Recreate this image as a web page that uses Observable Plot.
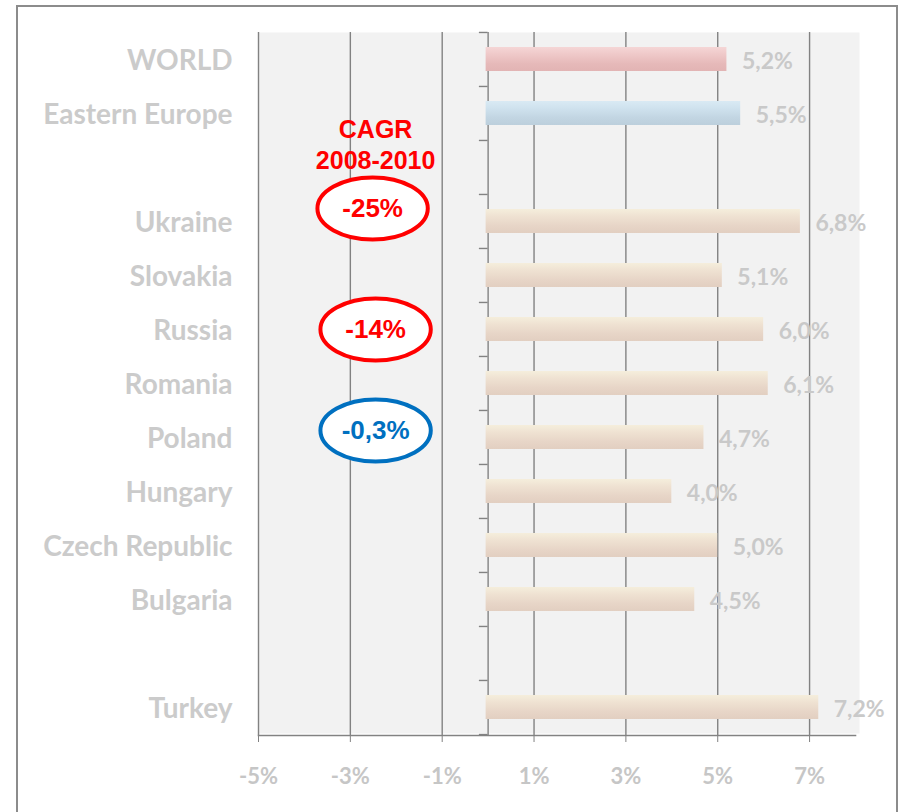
<!DOCTYPE html>
<html><head><meta charset="utf-8">
<script src="https://cdn.jsdelivr.net/npm/d3@7"></script>
<script src="https://cdn.jsdelivr.net/npm/@observablehq/plot@0.6"></script>
<style>
body{margin:0;background:#fff;width:901px;height:812px;overflow:hidden;position:relative}
#border{position:absolute;left:16px;top:5px;width:882px;height:900px;border:2px solid #8c8c8c;box-sizing:border-box}
#chart{position:absolute;left:0;top:0}
</style></head><body><div id="border"></div><div id="chart"></div>
<script>
// ---- data ----
const categories = ["WORLD","Eastern Europe","_gap1","Ukraine","Slovakia","Russia","Romania","Poland","Hungary","Czech Republic","Bulgaria","_gap2","Turkey"];
const values     = [5.2, 5.5, null, 6.8, 5.1, 6.0, 6.1, 4.7, 4.0, 5.0, 4.5, null, 7.2];
const groups     = ["world","region",null,"country","country","country","country","country","country","country","country",null,"country"];
const xTicks = [-5,-3,-1,1,3,5,7];
const xDomain = [-5, 8];
const cagrTitle = "CAGR\n2008-2010";
const annotationX = -2.45;
const annotations = [
  {row:"Ukraine", label:"-25%",  color:"#ff0000"},
  {row:"Russia",  label:"-14%",  color:"#ff0000"},
  {row:"Poland",  label:"-0,3%", color:"#0070c0"}
];
const annotationOffsets = [{dx:-3, dy:-13}, {dx:0, dy:0}, {dx:0, dy:-7}];

const rows = categories.map((c,i)=>({cat:c, value:values[i], group:groups[i]})).filter(d=>d.value!=null);

// ---- layout ----
const W = 901, H = 812, mt = 32, mb = 77, ml = 258, mr = 46;
const step = (H - mt - mb) / categories.length;
const fmt = v => v.toFixed(1).replace(".", ",") + "%";

const ellipse = {
  draw(ctx, size) {
    const r = Math.sqrt(size / Math.PI), rx = r * 1.78, ry = r, k = 0.5523;
    ctx.moveTo(rx, 0);
    ctx.bezierCurveTo(rx, ry*k, rx*k, ry, 0, ry);
    ctx.bezierCurveTo(-rx*k, ry, -rx, ry*k, -rx, 0);
    ctx.bezierCurveTo(-rx, -ry*k, -rx*k, -ry, 0, -ry);
    ctx.bezierCurveTo(rx*k, -ry, rx, -ry*k, rx, 0);
    ctx.closePath();
  }
};

const grads = {world:"url(#g-world)", region:"url(#g-region)", country:"url(#g-country)"};
const annFont = "Liberation Sans, Arial, sans-serif";

const chart = Plot.plot({
  width: W, height: H,
  marginTop: mt, marginBottom: mb, marginLeft: ml, marginRight: mr,
  style: {fontFamily: "Lato, sans-serif", background: "transparent", overflow: "visible"},
  x: {domain: xDomain, label: null},
  y: {domain: categories, paddingInner: 0.55, paddingOuter: 0.275, label: null},
  marks: [
    Plot.frame({fill: "#f2f2f2", stroke: null, insetRight: -4, insetBottom: 2}),
    Plot.ruleX(xTicks, {stroke: "#828282", strokeWidth: 1.4}),
    Plot.ruleX([0], {stroke: "#828282", strokeWidth: 1.4}),
    Plot.ruleY(categories, {y: d => d, x1: -0.19, x2: 0, dy: -step/2, stroke: "#828282", strokeWidth: 1.4}),
    Plot.ruleY(categories.slice(-1), {y: d => d, x1: -0.19, x2: 0, dy: step/2, stroke: "#828282", strokeWidth: 1.4}),
    Plot.frame({anchor: "bottom", stroke: "#828282", strokeWidth: 1.6}),
    ...["world","region","country"].map(g =>
      Plot.barX(rows.filter(d => d.group === g), {x1: 0, x2: "value", y: "cat", fill: grads[g], insetLeft: -2})
    ),
    Plot.text(rows, {x: "value", y: "cat", text: d => fmt(d.value), dx: 15, dy: 2, textAnchor: "start",
      fill: "#c9c9c9", fontSize: 23, fontWeight: "bold"}),
    Plot.axisX({ticks: xTicks, tickSize: 7, tickPadding: 26, tickFormat: d => d + "%", label: null,
      stroke: "#828282", fill: "#c6c6c6", fontSize: 22, fontWeight: "bold"}),
    Plot.axisY({tickSize: 0, tickPadding: 26, dy: 2, tickFormat: d => d.startsWith("_") ? "" : d, label: null,
      fill: "#cbcbcb", fontSize: 28, fontWeight: "bold"}),
    Plot.text([cagrTitle], {x: () => annotationX, y: () => categories[2], text: d => d, dy: -24, lineHeight: 1.24,
      fill: "#ff0000", fontSize: 25, fontWeight: "bold", fontFamily: annFont}),
    ...annotations.flatMap((a, i) => [
      Plot.dot([a], {x: () => annotationX, y: "row", dx: annotationOffsets[i].dx, dy: annotationOffsets[i].dy, r: 31,
        symbol: ellipse, fill: "#ffffff", stroke: a.color, strokeWidth: 4}),
      Plot.text([a], {x: () => annotationX, y: "row", dx: annotationOffsets[i].dx, dy: annotationOffsets[i].dy, text: "label",
        fill: a.color, fontSize: 26, fontWeight: "bold", fontFamily: annFont})
    ])
  ]
});

const svg = d3.select(chart);
const defs = svg.insert("defs", ":first-child");
const gradSpec = {
  "g-world":   ["#f5d6d6", "#efc9c9", "#e6b9b9", "#e2b4b4"],
  "g-region":  ["#d9eaf4", "#cfe2ee", "#c2d5e2", "#bccfdc"],
  "g-country": ["#f5eedc", "#efe2d2", "#e7d5c7", "#e2cfc1"]
};
for (const [id, cols] of Object.entries(gradSpec)) {
  const lg = defs.append("linearGradient").attr("id", id).attr("x1", 0).attr("y1", 0).attr("x2", 0).attr("y2", 1);
  [0, 0.3, 0.7, 1].forEach((o, i) => lg.append("stop").attr("offset", o).attr("stop-color", cols[i]));
}
document.getElementById("chart").appendChild(chart);
</script>
</body></html>
